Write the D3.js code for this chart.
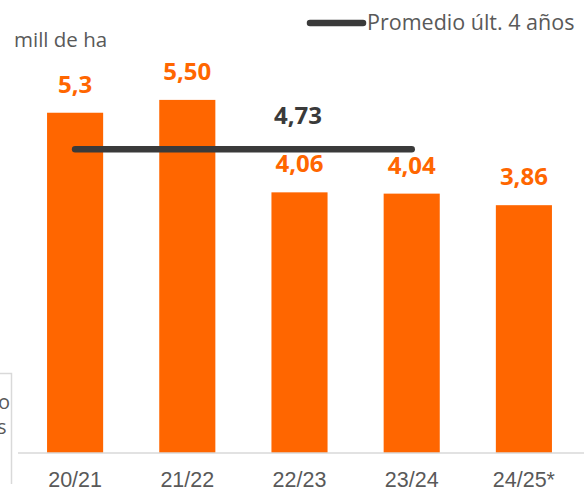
<!DOCTYPE html>
<html>
<head>
<meta charset="utf-8">
<script src="https://cdn.jsdelivr.net/npm/d3@7"></script>
<style>
  html, body { margin: 0; padding: 0; background: #fff; }
  svg { display: block; font-family: "Open Sans", sans-serif; }
</style>
</head>
<body>
<div id="chart"></div>
<script>
// Data
const categories = ['20/21', '21/22', '22/23', '23/24', '24/25*'];
const values = [5.3, 5.50, 4.06, 4.04, 3.86];
const valueLabels = ['5,3', '5,50', '4,06', '4,04', '3,86'];
const averageValue = 4.73;
const averageLabel = '4,73';
const averageFrom = '20/21';
const averageTo = '23/24';

const W = 584, H = 492;
const baseline = 453;
const orange = '#FF6600';
const dark = '#3a3a3a';
const grey = '#595959';

const svg = d3.select('#chart').append('svg')
    .attr('width', W)
    .attr('height', H);

// Scales
const x = d3.scaleBand()
    .domain(categories)
    .range([19, 580])
    .paddingInner(0.5)
    .paddingOuter(0.25);

const y = d3.scaleLinear()
    .domain([0, 7])
    .range([baseline, baseline - 7 * 64.2]);

// Cropped box on the left edge (piece of a neighbouring element)
svg.append('path')
    .attr('d', 'M0,373.5H11.5V484')
    .attr('fill', 'none')
    .attr('stroke', '#d9d9d9')
    .attr('stroke-width', 1.5);
svg.append('text').attr('x', -2).attr('y', 409).attr('fill', grey)
    .style('font-size', '20px').text('o');
svg.append('text').attr('x', -3).attr('y', 434).attr('fill', grey)
    .style('font-size', '20px').text('s');

// Bars
svg.selectAll('.bar')
    .data(categories)
    .enter().append('rect')
    .attr('class', 'bar')
    .attr('x', d => x(d))
    .attr('width', x.bandwidth())
    .attr('y', (d, i) => y(values[i]))
    .attr('height', (d, i) => y(0) - y(values[i]))
    .attr('fill', orange);

// X axis
const xAxis = d3.axisBottom(x).tickSize(0).tickPadding(19);
const gx = svg.append('g')
    .attr('transform', `translate(0,${baseline})`)
    .call(xAxis);
gx.select('.domain').remove();
gx.append('line')
    .attr('x1', 18).attr('x2', W)
    .attr('stroke', '#d9d9d9')
    .attr('stroke-width', 1.5);
gx.selectAll('.tick text')
    .attr('fill', grey)
    .style('font-family', 'inherit')
    .style('font-size', '21.5px');

// Value labels
svg.selectAll('.vlabel')
    .data(categories)
    .enter().append('text')
    .attr('class', 'vlabel')
    .attr('x', d => x(d) + x.bandwidth() / 2)
    .attr('y', (d, i) => y(values[i]) - 20)
    .attr('text-anchor', 'middle')
    .attr('fill', orange)
    .style('font-size', '24px')
    .style('font-weight', 'bold')
    .text((d, i) => valueLabels[i]);

// Average line
const ax1 = x(averageFrom) + x.bandwidth() / 2;
const ax2 = x(averageTo) + x.bandwidth() / 2;
svg.append('line')
    .attr('x1', ax1).attr('x2', ax2)
    .attr('y1', y(averageValue)).attr('y2', y(averageValue))
    .attr('stroke', dark)
    .attr('stroke-width', 6.5)
    .attr('stroke-linecap', 'round');
svg.append('text')
    .attr('x', 298)
    .attr('y', y(averageValue) - 25)
    .attr('text-anchor', 'middle')
    .attr('fill', dark)
    .style('font-size', '24px')
    .style('font-weight', 'bold')
    .text(averageLabel);

// Unit label
svg.append('text')
    .attr('x', 14).attr('y', 47)
    .attr('fill', grey)
    .style('font-size', '20.5px')
    .text('mill de ha');

// Legend
svg.append('line')
    .attr('x1', 310).attr('x2', 363)
    .attr('y1', 23).attr('y2', 23)
    .attr('stroke', dark)
    .attr('stroke-width', 6.5)
    .attr('stroke-linecap', 'round');
svg.append('text')
    .attr('x', 367).attr('y', 30)
    .attr('fill', grey)
    .style('font-size', '21.5px')
    .text('Promedio últ. 4 años');
</script>
</body>
</html>
